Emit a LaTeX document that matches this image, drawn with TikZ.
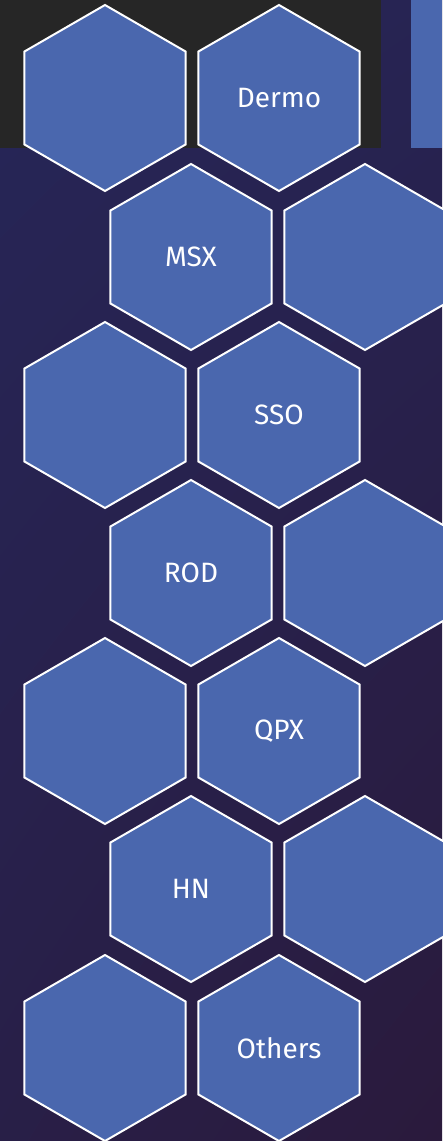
\documentclass[tikz,border=0pt]{standalone}
\usepackage{fontspec}
\setsansfont{Fira Sans}
\usetikzlibrary{shapes.geometric, shadings}
\definecolor{hexblue}{RGB}{74,103,174}
\definecolor{bgtop}{RGB}{38,38,88}
\definecolor{bgbottom}{RGB}{42,26,60}
\definecolor{bandgray}{RGB}{38,38,38}
\tikzset{hexcell/.style={regular polygon, regular polygon sides=6, shape border rotate=30,
    minimum size=186pt, inner sep=0pt, fill=hexblue, draw=white, line width=2pt,
    text=white, font=\sffamily\fontsize{28}{28}\selectfont}}
\begin{document}
\begin{tikzpicture}[x=1pt, y=-1pt]
    \useasboundingbox (0,0) rectangle (442,1141);
    \shade[upper left=bgtop, upper right=bgtop!80!bgbottom, lower left=bgtop!40!bgbottom, lower right=bgbottom]
      (0,0) rectangle (442,1141);
    \fill[bandgray] (0,0) rectangle (381,148);
    \fill[hexblue] (411,0) rectangle (442,148);

    \node[hexcell] (h1l) at (105,98) {};
    \node[hexcell] (h1r) at (279,98) {Dermo};
    \node[hexcell] (h2l) at (191,257) {MSX};
    \node[hexcell] (h2r) at (365,257) {};
    \node[hexcell] (h3l) at (105,415) {};
    \node[hexcell] (h3r) at (279,415) {SSO};
    \node[hexcell] (h4l) at (191,573) {ROD};
    \node[hexcell] (h4r) at (365,573) {};
    \node[hexcell] (h5l) at (105,731) {};
    \node[hexcell] (h5r) at (279,731) {QPX};
    \node[hexcell] (h6l) at (191,889) {HN};
    \node[hexcell] (h6r) at (365,889) {};
    \node[hexcell] (h7l) at (105,1048) {};
    \node[hexcell] (h7r) at (279,1048) {Others};
\end{tikzpicture}
\end{document}
